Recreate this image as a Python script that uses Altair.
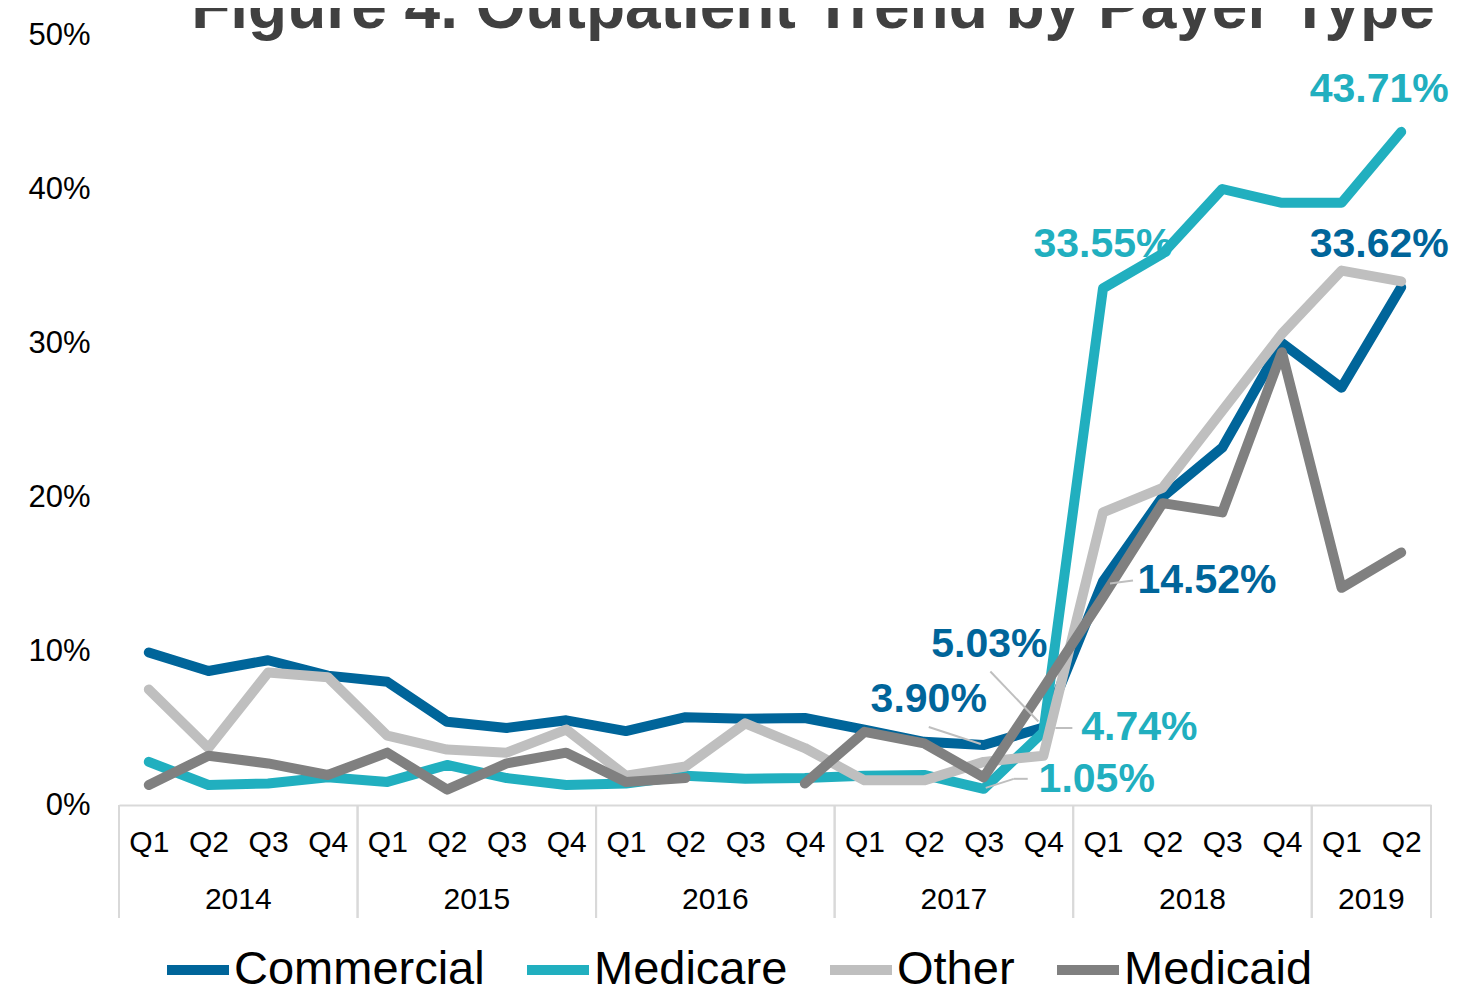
import altair as alt
import pandas as pd

TITLE = "Figure 4. Outpatient Trend by Payer Type"
YEARS = [2014] * 4 + [2015] * 4 + [2016] * 4 + [2017] * 4 + [2018] * 4 + [2019] * 2
QUARTERS = ["Q1", "Q2", "Q3", "Q4"] * 5 + ["Q1", "Q2"]
SERIES = ["Commercial", "Medicare", "Other", "Medicaid"]
COLORS = ["#00659A", "#21AFBF", "#BFBFBF", "#808080"]
WIDTHS = [10, 10, 8, 6]

COMMERCIAL = [9.9, 8.7, 9.4, 8.4, 8.0, 5.4, 5.0, 5.5, 4.8, 5.7, 5.6, 5.65,
              4.9, 4.1, 3.90, 5.03, 14.52, 20.0, 23.2, 30.0, 27.1, 33.62]
MEDICARE = [2.8, 1.3, 1.4, 1.8, 1.5, 2.6, 1.75, 1.3, 1.4, 1.9, 1.7, 1.75,
            1.9, 1.95, 1.05, 4.74, 33.55, 35.8, 40.0, 39.1, 39.1, 43.71]
OTHER = [7.5, 3.7, 8.6, 8.3, 4.5, 3.6, 3.4, 4.9, 1.9, 2.5, 5.3, 3.7,
         1.6, 1.6, 2.8, 3.2, 19.0, 20.6, 25.6, 30.6, 34.7, 34.0]
MEDICAID = [1.3, 3.2, 2.7, 1.95, 3.4, 1.0, 2.7, 3.4, 1.5, 1.75, None, 1.4,
            4.75, 4.0, 1.8, 7.6, 13.5, 19.6, 19.0, 29.4, 14.1, 16.4]
Y_TICKS = [0, 0.1, 0.2, 0.3, 0.4, 0.5]

rows = []
for s, vals in zip(SERIES, [COMMERCIAL, MEDICARE, OTHER, MEDICAID]):
    for i, v in enumerate(vals):
        rows.append({"series": s, "idx": i, "year": str(YEARS[i]), "quarter": QUARTERS[i],
                     "value": None if v is None else v / 100.0})
df = pd.DataFrame(rows)

W, H = 1312, 770
NARROW = "Liberation Sans Narrow, Arial Narrow, Liberation Sans"
SANS = "Liberation Sans, Arial, sans-serif"

q_expr = "[" + ",".join("'%s'" % q for q in QUARTERS) + "][datum.value]"

x_enc = alt.X("idx:Q", title=None,
              scale=alt.Scale(domain=[-0.5, len(QUARTERS) - 0.5], nice=False, zero=False),
              axis=alt.Axis(values=list(range(len(QUARTERS))), labelExpr=q_expr, grid=False,
                            ticks=False, domain=True, domainColor="#D9D9D9", domainWidth=2,
                            labelFont=NARROW, labelFontSize=30, labelColor="black",
                            labelPadding=22, labelFlush=False, labelOverlap=False))
y_enc = alt.Y("value:Q", title=None, scale=alt.Scale(domain=[0, 0.5], nice=False),
              axis=alt.Axis(values=Y_TICKS, format=".0%", domain=False, ticks=False, grid=False,
                            labelFont=SANS, labelFontSize=31, labelColor="black", labelPadding=29))

legend = alt.Legend(orient="none", legendX=43, legendY=899,
                    direction="horizontal", title=None,
                    symbolType="stroke", symbolSize=3844, symbolStrokeWidth=9,
                    labelFontSize=47, labelFont=SANS, labelColor="black",
                    columnPadding=22, labelOffset=0, labelLimit=500)

color_enc = alt.Color("series:N", scale=alt.Scale(domain=SERIES, range=COLORS), legend=legend)
width_enc = alt.StrokeWidth("series:N", scale=alt.Scale(domain=SERIES, range=WIDTHS), legend=None)

base = alt.Chart(df)

lines = base.mark_line(strokeCap="round", strokeJoin="round",
                       invalid="break-paths-filter-domains").encode(
    x=x_enc, y=y_enc, color=color_enc, strokeWidth=width_enc,
)

# data labels: (series, index, dx, dy, color)
LABEL_SPECS = [
    ("Medicare", 21, -22, -42, COLORS[1]),
    ("Commercial", 21, -22, -42, COLORS[0]),
    ("Medicare", 16, 0, -43, COLORS[1]),
    ("Commercial", 16, 104, 0, COLORS[0]),
    ("Commercial", 15, -54, -83, COLORS[0]),
    ("Commercial", 14, -55, -45, COLORS[0]),
    ("Medicare", 15, 96, -4, COLORS[1]),
    ("Medicare", 14, 113, -9, COLORS[1]),
]
label_layers = []
for s, i, dx, dy, c in LABEL_SPECS:
    label_layers.append(
        base.transform_filter((alt.datum.series == s) & (alt.datum.idx == i))
        .mark_text(dx=dx, dy=dy, fontSize=41, fontWeight="bold", font=SANS, color=c,
                   align="center", baseline="middle")
        .encode(x=alt.X("idx:Q"), y=alt.Y("value:Q"), text=alt.Text("value:Q", format=".2%"))
    )

# leader lines: (series, index, x1, y1, x2, y2) pixel offsets from the point
LEADERS = [
    ("Commercial", 16, 7, 2, 30, -1),
    ("Commercial", 15, -53, -56, -5, -6),
    ("Commercial", 14, -55, -18, -3, -1),
    ("Medicare", 15, 12, -4, 29, -4),
    ("Medicare", 14, 2, -1, 30, -10),
    ("Medicare", 14, 30, -10, 44, -10),
]
leader_layers = []
for s, i, ax, ay, bx, by in LEADERS:
    leader_layers.append(
        base.transform_filter((alt.datum.series == s) & (alt.datum.idx == i))
        .mark_rule(color="#BFBFBF", strokeWidth=2, xOffset=ax, yOffset=ay,
                   x2Offset=bx, y2Offset=by)
        .encode(x=alt.X("idx:Q"), y=alt.Y("value:Q"), x2=alt.X2("idx"), y2=alt.Y2("value"))
    )

years = base.transform_filter(alt.datum.series == SERIES[0]).transform_aggregate(
    center="mean(idx)", groupby=["year"]
).mark_text(font=NARROW, fontSize=30, color="black", baseline="middle").encode(
    x=alt.X("center:Q"), y=alt.value(H + 95), text="year:N"
)

seps = base.transform_filter(alt.datum.series == SERIES[0]).transform_aggregate(
    lo="min(idx)", hi="max(idx)", groupby=["year"]
).transform_calculate(
    left="datum.lo - 0.5", right="datum.hi + 0.5"
).transform_fold(["left", "right"], as_=["side", "pos"]).mark_rule(
    color="#D9D9D9", strokeWidth=2
).encode(x=alt.X("pos:Q"), y=alt.value(H), y2=alt.value(H + 113))

title = alt.Chart(pd.DataFrame({"t": [TITLE]})).mark_text(
    font=SANS, fontSize=64, fontWeight="bold", color="#404040", align="center",
    baseline="alphabetic"
).encode(x=alt.value(694), y=alt.value(-7), text="t:N")

chart = alt.layer(seps, lines, *leader_layers, *label_layers, years, title).properties(
    width=W, height=H,
    autosize=alt.AutoSizeParams(type="none"),
    padding={"left": 111, "top": 27, "right": 30, "bottom": 181},
).configure_view(stroke=None)

chart.save("out.html", embed_options={"renderer": "svg", "actions": False})
